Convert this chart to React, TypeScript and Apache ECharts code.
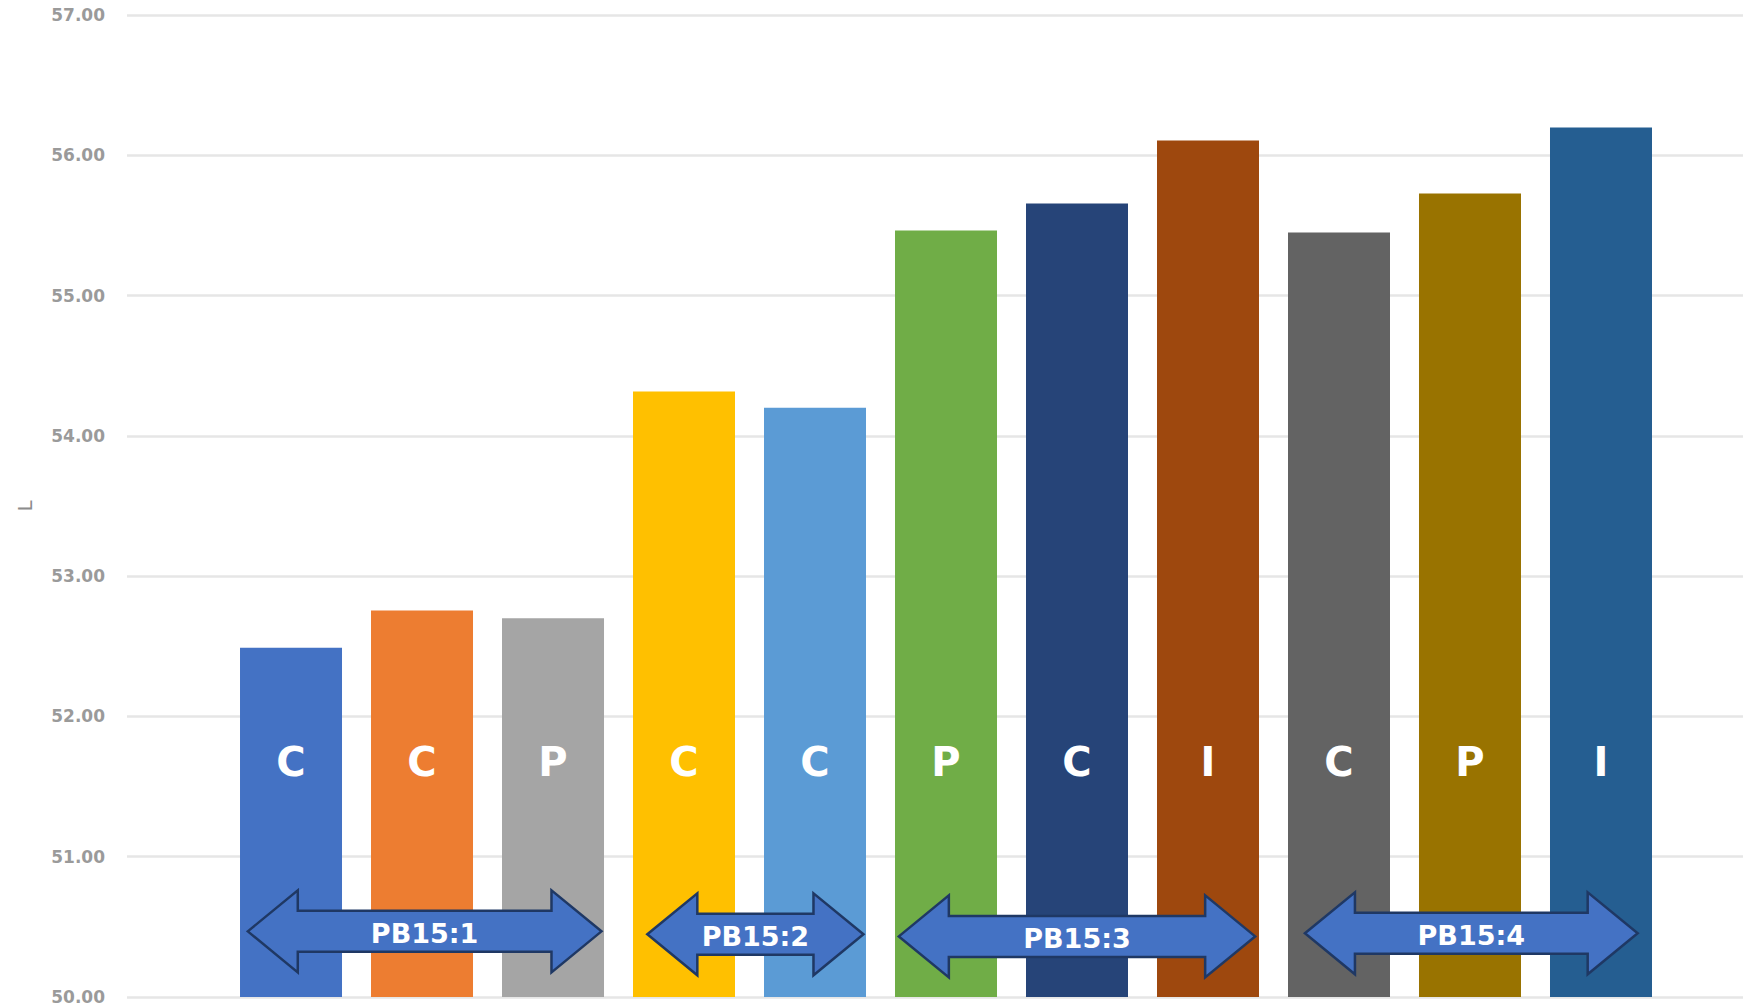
import React, { useEffect, useRef } from "react";
import * as echarts from "echarts";

// ---- data ----
const pigmentTypes = ["C", "C", "P", "C", "C", "P", "C", "I", "C", "P", "I"];
const lValues = [52.49, 52.755, 52.7, 54.317, 54.2, 55.464, 55.657, 56.105, 55.45, 55.728, 56.198];
const barColors = [
  "#4472c4", "#ed7d31", "#a5a5a5", "#ffc000", "#5b9bd5", "#70ad47",
  "#264478", "#9e480e", "#636363", "#997300", "#255e91",
];
const groupLabels = ["PB15:1", "PB15:2", "PB15:3", "PB15:4"];
const groupFrom = [-0.33, 2.72, 4.64, 7.74];
const groupTo = [2.37, 4.37, 7.36, 10.28];
const groupLevel = [50.468, 50.447, 50.432, 50.454];
const yMin = 50;
const yMax = 57;
const yStep = 1;

export default function App() {
  const ref = useRef<HTMLDivElement>(null);

  useEffect(() => {
    document.body.style.margin = "0";
    if (!ref.current) return;
    const chart = echarts.init(ref.current, null, { renderer: "svg" });

    const option: any = {
      animation: false,
      backgroundColor: "#ffffff",
      grid: { left: 127, right: 0, top: 15, bottom: 11, containLabel: false, outerBoundsMode: "none" },
      xAxis: {
        type: "value",
        min: -1.252,
        max: 11.084,
        show: false,
        splitLine: { show: false },
      },
      yAxis: {
        type: "value",
        min: yMin,
        max: yMax,
        interval: yStep,
        name: "L",
        nameLocation: "middle",
        nameGap: 92,
        nameTextStyle: { color: "#8c8c8c", fontSize: 20, fontFamily: "DejaVu Sans" },
        axisLine: { show: false },
        axisTick: { show: false },
        axisLabel: {
          formatter: (v: number) => v.toFixed(2),
          color: "#9a9a9a",
          fontSize: 17,
          fontWeight: "bold",
          fontFamily: "DejaVu Sans",
          margin: 22,
        },
        splitLine: { show: true, lineStyle: { color: "#e6e6e6", width: 2.5 } },
      },
      series: [
        {
          type: "bar",
          barWidth: 102,
          data: lValues.map((v, i) => ({
            value: [i, v],
            itemStyle: { color: barColors[i] },
          })),
          label: {
            show: true,
            position: "insideBottom",
            distance: 215,
            formatter: (p: any) => pigmentTypes[p.dataIndex],
            color: "#ffffff",
            fontSize: 40,
            lineHeight: 40,
            fontWeight: "bold",
            fontFamily: "DejaVu Sans",
          },
        },
      ],
    };
    chart.setOption(option);

    const hl = 50;
    const hh = 41;
    const sh = 20.5;
    const graphics: any[] = [];
    groupLabels.forEach((name, g) => {
      const p0 = chart.convertToPixel({ gridIndex: 0 }, [groupFrom[g], groupLevel[g]]) as number[];
      const p1 = chart.convertToPixel({ gridIndex: 0 }, [groupTo[g], groupLevel[g]]) as number[];
      const x0 = p0[0];
      const x1 = p1[0];
      const yc = p0[1];
      graphics.push({
        type: "polygon",
        z: 100,
        shape: {
          points: [
            [x0, yc],
            [x0 + hl, yc - hh],
            [x0 + hl, yc - sh],
            [x1 - hl, yc - sh],
            [x1 - hl, yc - hh],
            [x1, yc],
            [x1 - hl, yc + hh],
            [x1 - hl, yc + sh],
            [x0 + hl, yc + sh],
            [x0 + hl, yc + hh],
          ],
        },
        style: { fill: "#4472c4", stroke: "#1f3864", lineWidth: 2.5 },
      });
      graphics.push({
        type: "text",
        z: 101,
        x: (x0 + x1) / 2,
        y: yc + 2,
        style: {
          text: name,
          fill: "#ffffff",
          fontSize: 27,
          fontWeight: "bold",
          fontFamily: "DejaVu Sans",
          align: "center",
          verticalAlign: "middle",
        },
      });
    });
    chart.setOption({ graphic: graphics });

    return () => chart.dispose();
  }, []);

  return (
    <div
      ref={ref}
      style={{ position: "fixed", left: 0, top: 0, width: 1743, height: 1008 }}
    />
  );
}
